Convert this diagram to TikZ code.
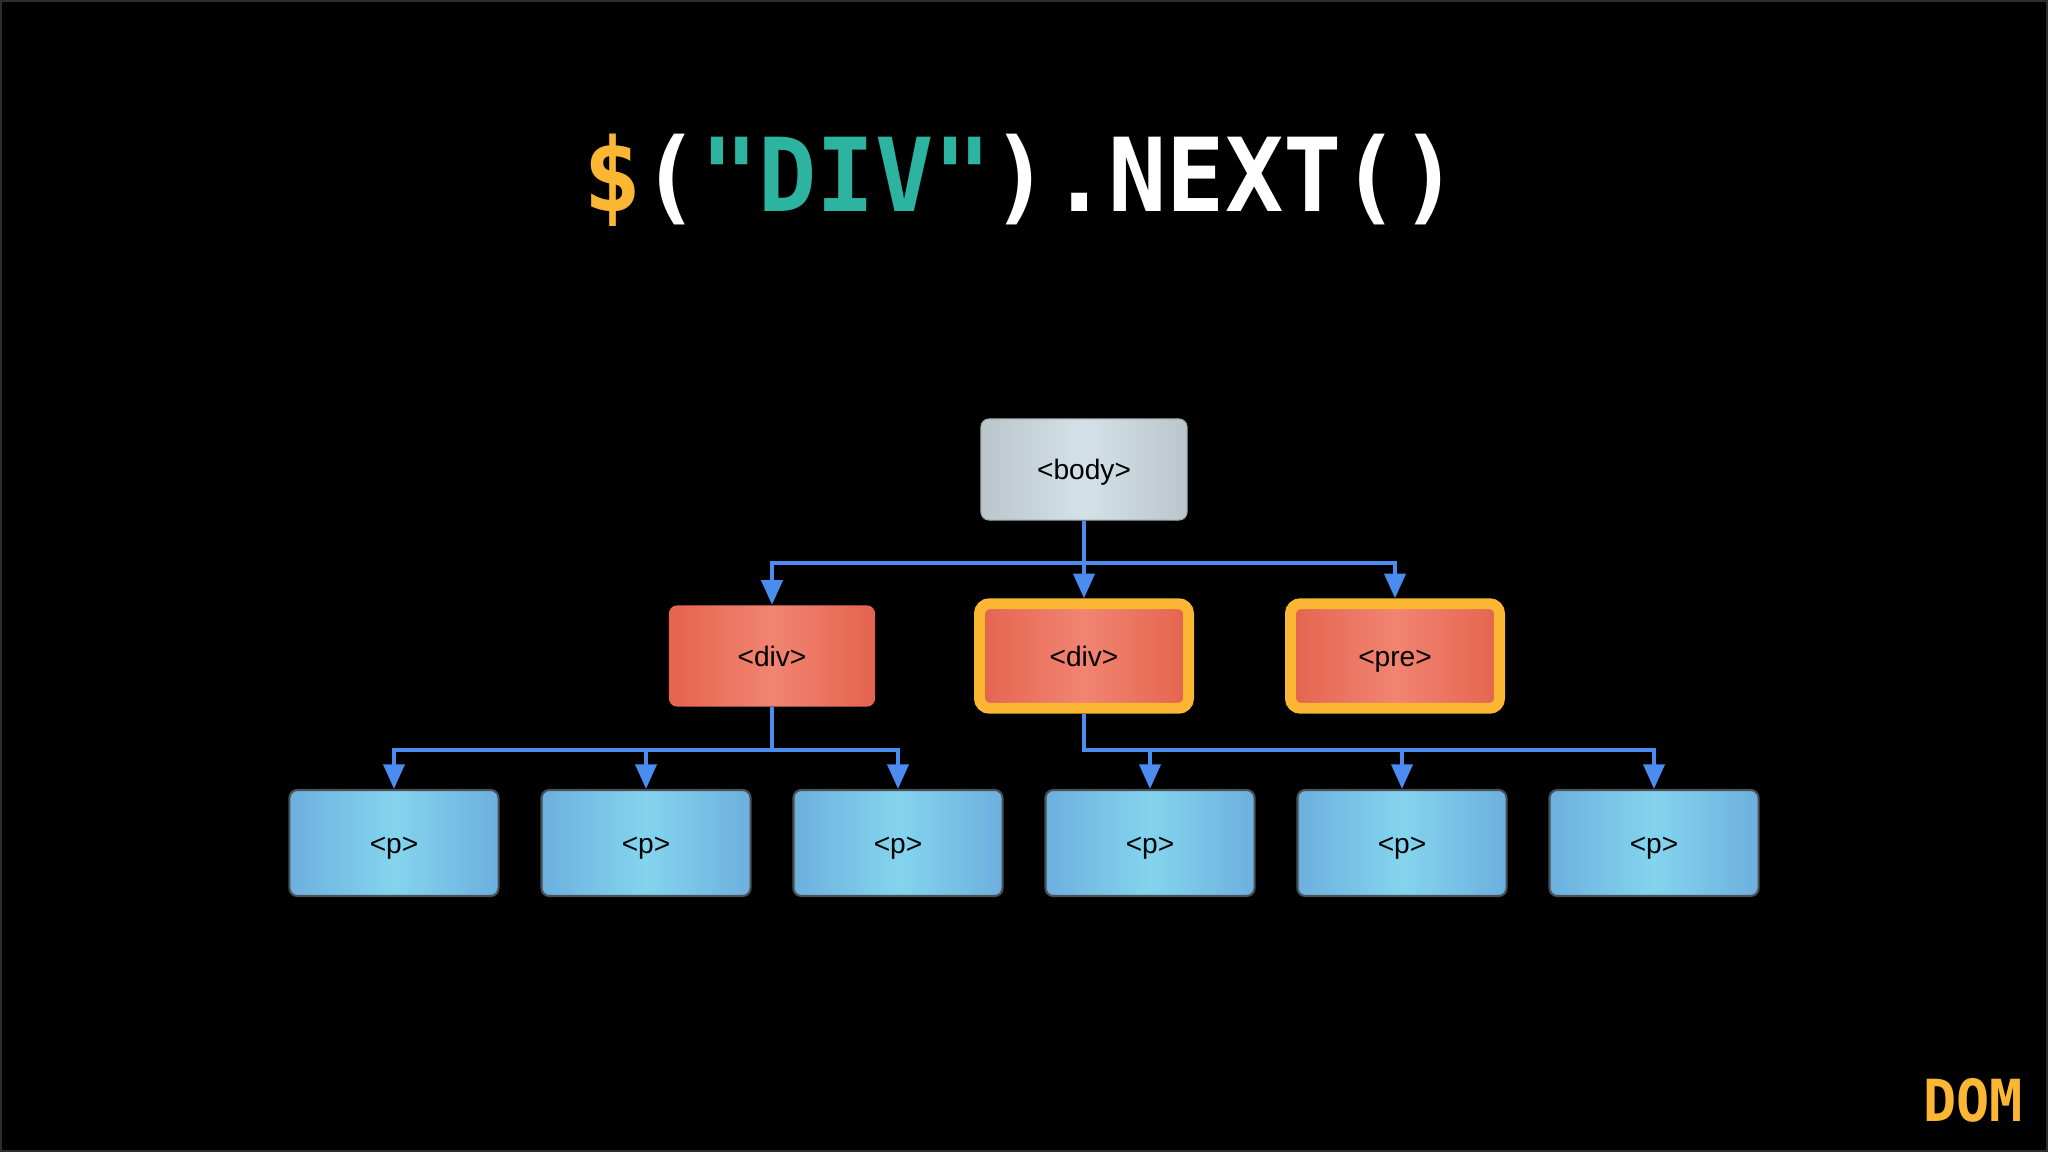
\documentclass[tikz,border=0pt]{standalone}
\usepackage{fontspec}
\setmainfont{Liberation Sans}
\newfontfamily\dotfont{DejaVu Sans Mono}[FakeStretch=0.95]
\usepackage{xcolor}
\usetikzlibrary{arrows.meta, positioning}
\definecolor{slidegold}{RGB}{251, 182, 52}
\definecolor{slideteal}{RGB}{44, 180, 160}
\definecolor{framegray}{RGB}{45, 45, 45}
\definecolor{linkblue}{RGB}{74, 140, 240}
\definecolor{bodyedge}{RGB}{186, 198, 202}
\definecolor{bodymid}{RGB}{212, 225, 232}
\definecolor{divedge}{RGB}{228, 100, 78}
\definecolor{divmid}{RGB}{241, 132, 114}
\definecolor{pedge}{RGB}{108, 176, 222}
\definecolor{pmid}{RGB}{132, 212, 238}
\definecolor{pborder}{RGB}{75, 80, 85}

\begin{document}
\begin{tikzpicture}[x=0.01cm, y=-0.01cm,
  tag/.style={rounded corners=0.08cm, minimum width=2.06cm, minimum height=1.01cm, inner sep=0pt, text height=5.8pt, text depth=0pt, font=\fontsize{8}{8}\selectfont, text=black},
  bodytag/.style={tag, left color=bodyedge, right color=bodyedge, middle color=bodymid, draw=bodyedge!85!black, line width=0.3pt},
  divtag/.style={tag, left color=divedge, right color=divedge, middle color=divmid},
  picked/.style={draw=slidegold, line width=3.1pt, minimum width=2.09cm, minimum height=1.045cm, rounded corners=0.1cm},
  ptag/.style={tag, minimum width=2.09cm, minimum height=1.06cm, left color=pedge, right color=pedge, middle color=pmid, draw=pborder, line width=0.6pt},
  wire/.style={linkblue, line width=1.05pt},
  link/.style={wire, -{Triangle[length=7pt, width=6pt]}}]
\useasboundingbox (0,0) rectangle (2048,1152);
\fill[black] (0,0) rectangle (2048,1152);
\draw[framegray, line width=0.5pt] (1,1) rectangle (2047,1151);

% title and corner mark
\node[anchor=base, inner sep=0pt, font=\dotfont\bfseries\fontsize{29}{29}\selectfont] (title) at (1021,212)
  {\textcolor{slidegold}{\$}\textcolor{white}{(}\textcolor{slideteal}{"DIV"}\textcolor{white}{).NEXT()}};
\node[anchor=base, inner sep=0pt, text=slidegold, font=\dotfont\bfseries\fontsize{16.5}{16.5}\selectfont] (dom) at (1973,1121) {DOM};

% tree
\node[bodytag] (body) at (1084,469.5) {<body>};
\node[divtag] (divA) at (772,656) {<div>};
\node[divtag, picked] (divB) at (1084,656) {<div>};
\node[divtag, picked] (pre) at (1395,656) {<pre>};

\node[ptag] (pA) at (394,843) {<p>};
\node[ptag] (pB) at (646,843) {<p>};
\node[ptag] (pC) at (898,843) {<p>};
\node[ptag] (pD) at (1150,843) {<p>};
\node[ptag] (pE) at (1402,843) {<p>};
\node[ptag] (pF) at (1654,843) {<p>};

\coordinate (busTop) at (1084,563);
\coordinate (busA) at (772,750);
\coordinate (busB) at (1084,750);

\draw[link] (body) -- (divB);
\draw[link] (busTop) -| (divA.north);
\draw[link] (busTop) -| (pre.north);

\draw[wire] (divA.south) -- (busA);
\draw[link] (busA) -| (pA.north);
\draw[link] (busA) -| (pC.north);
\draw[link] (pB.north |- busA) -- (pB.north);

\draw[link] (divB.south) -- (busB) -| (pF.north);
\draw[link] (pD.north |- busB) -- (pD.north);
\draw[link] (pE.north |- busB) -- (pE.north);
\end{tikzpicture}
\end{document}
